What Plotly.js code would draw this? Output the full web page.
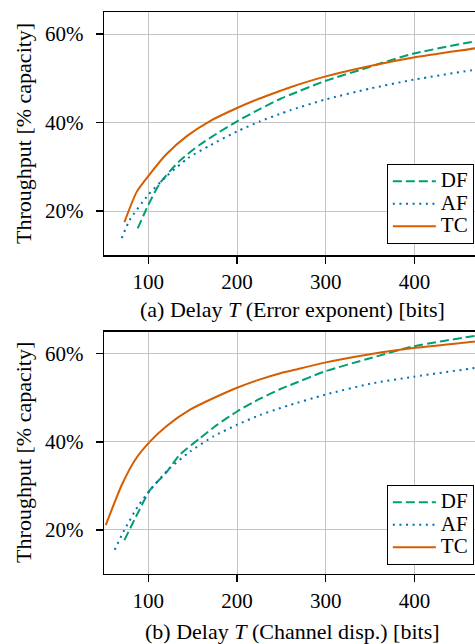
<!DOCTYPE html>
<html>
<head>
<meta charset="utf-8">
<script src="https://cdn.plot.ly/plotly-3.0.1.min.js"></script>
<style>
html,body{margin:0;padding:0;overflow:hidden;background:#fff;width:475px;height:644px;}
#chart{width:484px;height:644px;}
</style>
</head>
<body>
<div id="chart"></div>
<script>
// (a) Error exponent
const dfA_x = [88, 100, 113, 135, 158, 177, 200, 226, 249, 260, 299, 350, 362, 399, 469, 475];
const dfA_y = [16.1, 21.4, 26.3, 31.3, 35.0, 37.5, 40.3, 43.1, 45.4, 46.3, 49.4, 52.6, 53.4, 55.6, 58.4, 58.6];
const afA_x = [70, 79, 100, 120, 145, 169, 200, 226, 249, 260, 299, 350, 399, 469, 475];
const afA_y = [13.9, 18.0, 23.7, 27.8, 32.0, 34.8, 38.0, 40.3, 42.0, 42.8, 45.2, 47.7, 49.7, 52.0, 52.2];
const tcA_x = [73, 87, 103, 120, 143, 169, 200, 226, 249, 260, 299, 350, 399, 469, 475];
const tcA_y = [17.5, 24.4, 28.7, 32.8, 36.9, 40.3, 43.3, 45.5, 47.2, 48.0, 50.4, 52.8, 54.7, 56.8, 57.0];
// (b) Channel dispersion
const dfB_x = [73, 88, 102, 120, 135, 158, 177, 200, 226, 249, 260, 299, 350, 399, 469, 475];
const dfB_y = [17.7, 23.8, 29.1, 33.0, 37.0, 40.8, 43.8, 46.9, 49.8, 52.0, 52.9, 56.0, 59.0, 61.7, 64.1, 64.3];
const afB_x = [62, 73, 88, 102, 124, 147, 173, 200, 226, 249, 260, 299, 350, 399, 469, 475];
const afB_y = [15.5, 20.0, 25.3, 29.1, 34.0, 37.8, 41.2, 43.9, 46.1, 47.7, 48.4, 50.7, 53.2, 54.8, 56.8, 57.0];
const tcB_x = [52, 70, 85, 102, 120, 147, 173, 200, 226, 249, 260, 299, 350, 399, 469, 475];
const tcB_y = [21.1, 30.2, 35.9, 40.1, 43.5, 47.3, 49.9, 52.3, 54.2, 55.6, 56.1, 58.0, 59.9, 61.3, 62.8, 63.0];

const names = ['DF', 'AF', 'TC'];
const colors = ['#009E73', '#0072B2', '#D55E00'];
const dashes = ['9px,4px', '2px,4.6px', 'solid'];
const yTickVals = [20, 40, 60];
const yTickText = ['20%', '40%', '60%'];
const xTickVals = [100, 200, 300, 400];
const xTitles = ['(a) Delay <i>T</i> (Error exponent) [bits]', '(b) Delay <i>T</i> (Channel disp.) [bits]'];
const yTitle = 'Throughput [% capacity]';

const FONT = 'Liberation Serif, Times New Roman, serif';
const dataA = [[dfA_x, dfA_y], [afA_x, afA_y], [tcA_x, tcA_y]];
const dataB = [[dfB_x, dfB_y], [afB_x, afB_y], [tcB_x, tcB_y]];

const bigName = n => '<span style="font-size:21px">' + n + '</span>';

const traces = [];
dataA.forEach((d, i) => traces.push({
  x: d[0], y: d[1], name: bigName(names[i]), mode: 'lines', type: 'scatter',
  xaxis: 'x', yaxis: 'y', legend: 'legend',
  line: {color: colors[i], width: 2, dash: dashes[i], shape: 'spline', smoothing: 0.6}
}));
dataB.forEach((d, i) => traces.push({
  x: d[0], y: d[1], name: bigName(names[i]), mode: 'lines', type: 'scatter',
  xaxis: 'x2', yaxis: 'y2', legend: 'legend2',
  line: {color: colors[i], width: 2, dash: dashes[i], shape: 'spline', smoothing: 0.6}
}));

function xax(anchor) {
  return {
    anchor: anchor, range: [50, 475], tickvals: xTickVals,
    ticks: 'outside', ticklen: 7, tickwidth: 1.3, tickcolor: '#000',
    showline: true, linecolor: '#000', linewidth: 1.3, mirror: true,
    showgrid: true, gridcolor: '#c4c4c4', gridwidth: 1, zeroline: false,
    tickfont: {family: FONT, size: 21, color: '#000'}
  };
}
function yax(anchor, domain) {
  return {
    anchor: anchor, domain: domain, range: [10, 65], tickvals: yTickVals, ticktext: yTickText,
    ticks: 'outside', ticklen: 7, tickwidth: 1.3, tickcolor: '#000',
    showline: true, linecolor: '#000', linewidth: 1.3, mirror: true,
    showgrid: true, gridcolor: '#c4c4c4', gridwidth: 1, zeroline: false,
    tickfont: {family: FONT, size: 21, color: '#000'}, ticklabelstandoff: 8
  };
}
function leg(y) {
  return {
    x: 0.981, y: y, xanchor: 'right', yanchor: 'bottom',
    bgcolor: '#fff', bordercolor: '#000', borderwidth: 1,
    font: {family: FONT, size: 15, color: '#000'},
    itemwidth: 43, tracegroupgap: 0
  };
}
const tfont = {family: FONT, size: 22, color: '#000'};
const annotations = [
  {text: xTitles[0], xref: 'paper', yref: 'paper', x: 0.5, y: 0.4698, xanchor: 'center', yanchor: 'middle', showarrow: false, font: tfont},
  {text: xTitles[1], xref: 'paper', yref: 'paper', x: 0.5, y: -0.1032, xanchor: 'center', yanchor: 'middle', showarrow: false, font: tfont},
  {text: yTitle, xref: 'paper', yref: 'paper', x: -0.2122, y: 0.783, xanchor: 'center', yanchor: 'middle', textangle: -90, showarrow: false, font: tfont},
  {text: yTitle, xref: 'paper', yref: 'paper', x: -0.2122, y: 0.2155, xanchor: 'center', yanchor: 'middle', textangle: -90, showarrow: false, font: tfont}
];

const layout = {
  width: 484, height: 644,
  margin: {l: 104, r: 3, t: 12, b: 70},
  paper_bgcolor: '#fff', plot_bgcolor: '#fff',
  showlegend: true,
  xaxis: xax('y'),
  yaxis: yax('x', [0.567, 1]),
  xaxis2: xax('y2'),
  yaxis2: yax('x2', [0, 0.431]),
  legend: leg(0.587),
  legend2: leg(0.016),
  annotations: annotations
};

Plotly.newPlot('chart', traces, layout, {staticPlot: true, displayModeBar: false});
</script>
</body>
</html>
